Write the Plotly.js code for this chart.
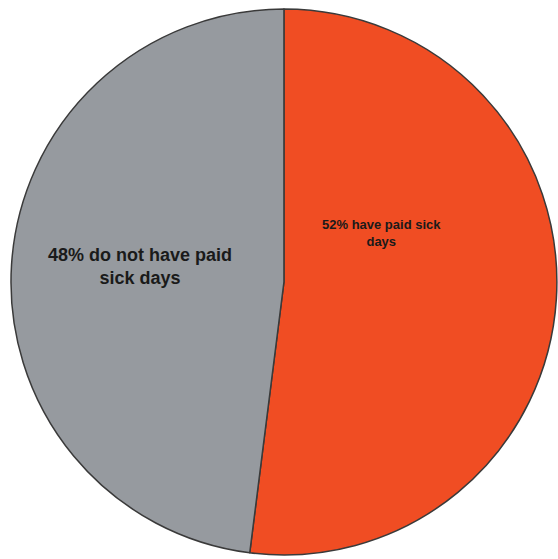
<!DOCTYPE html>
<html>
<head>
<meta charset="utf-8">
<script src="https://cdn.plot.ly/plotly-3.0.1.min.js"></script>
<style>html,body{margin:0;padding:0;background:#fff;}#chart{width:558px;height:559px;}</style>
</head>
<body>
<div id="chart"></div>
<script>
const labels = ["52% have paid sick<br>days", "48% do not have paid<br>sick days"];
const values = [52, 48];
const colors = ["#F04D23", "#969A9F"];
const labelX = [0.683, 0.251];
const labelY = [0.583, 0.523];
const labelSize = [13, 18];

const data = [{
  type: "pie",
  values: values,
  labels: labels,
  sort: false,
  direction: "clockwise",
  rotation: 0,
  textinfo: "none",
  hoverinfo: "none",
  marker: {colors: colors, line: {color: "#3a3a3a", width: 1.5}},
  domain: {x: [0.0197, 0.998], y: [0.007, 0.984]},
  showlegend: false
}];

const annotations = labels.map((t, i) => ({
  text: t, x: labelX[i], y: labelY[i], xref: "paper", yref: "paper",
  showarrow: false, xanchor: "center", yanchor: "middle", align: "center",
  font: {family: "Liberation Sans, Arial, sans-serif", size: labelSize[i], color: "#1a1a1a", weight: "bold"}
}));

const layout = {
  width: 558, height: 559,
  margin: {l: 0, r: 0, t: 0, b: 0},
  paper_bgcolor: "#ffffff",
  annotations: annotations
};
Plotly.newPlot("chart", data, layout, {staticPlot: true});
</script>
</body>
</html>
